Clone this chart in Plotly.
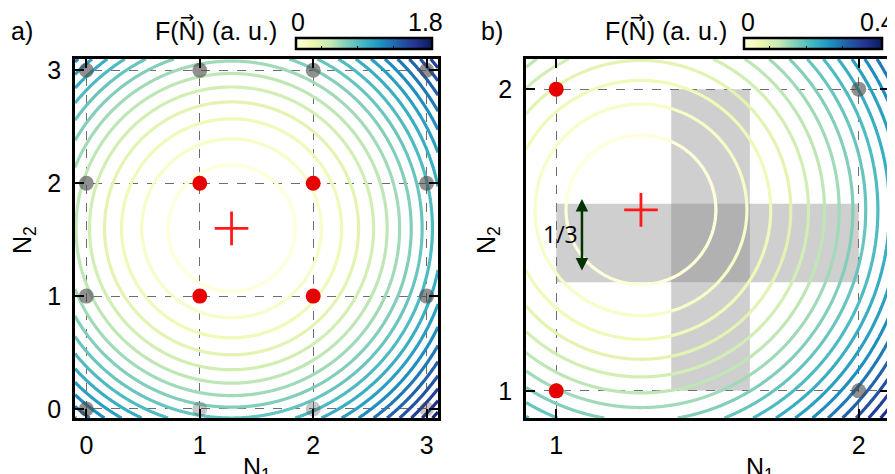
import numpy as np
import plotly.graph_objects as go
import plotly.colors as pc

# ---------------- data ----------------
minimum_n1 = 1.28
minimum_n2 = 1.60

a_ticks = [0, 1, 2, 3]
a_xrange = [-0.1, 3.1]
a_yrange = [-0.08, 3.1]
a_scale = 0.287
a_level_start, a_level_end, a_level_size = 0.09, 1.8, 0.09
a_cbar_range = [0, 1.8]
a_cbar_labels = ["0", "1.8"]
a_cbar_ticks = [0.335, 0.81, 1.285]

b_ticks = [1, 2]
b_xrange = [0.9, 2.1]
b_yrange = [0.91, 2.1]
b_scale = 0.326
b_level_start, b_level_end, b_level_size = 0.02, 0.4, 0.02
b_cbar_range = [0, 0.4]
b_cbar_labels = ["0", "0.4"]
b_cbar_ticks = [0.0745, 0.18, 0.2855]

a_red_n1 = [1, 2, 1, 2]
a_red_n2 = [1, 1, 2, 2]
a_gray_n1 = [0, 1, 2, 3, 0, 3, 0, 3, 0, 1, 2, 3]
a_gray_n2 = [0, 0, 0, 0, 1, 1, 2, 2, 3, 3, 3, 3]
a_gray_alpha = [0.6, 0.3, 0.3, 0.3, 0.6, 0.6, 0.6, 0.6, 0.6, 0.6, 0.6, 0.6]

b_red_n1 = [1, 1]
b_red_n2 = [1, 2]
b_gray_n1 = [2, 2]
b_gray_n2 = [1, 2]

b_vband_n1 = [1.38, 1.64]
b_vband_n2 = [1.0, 2.0]
b_hband_n1 = [1.0, 2.0]
b_hband_n2 = [1.36, 1.62]

arrow_n1 = 1.085
arrow_n2 = [1.394, 1.636]
arrow_label = "1/3"
arrow_label_pos = (1.013, 1.52)

cbar_title = "F(N) (a. u.)"
axis_x_title = "N<sub>1</sub>"
axis_y_title = "N<sub>2</sub>"

# ---------------- figure ----------------
OFF = 8                      # page body margin of the html document
W, H = 895 - OFF, 474 - OFF  # figure size so that the page fits the window
FONT = "Liberation Sans, Arial, sans-serif"
FS = 25
colorscale = pc.make_colorscale(pc.sequential.YlGnBu)

def px_x(p):
    return (p - OFF) / W

def px_y(p):
    return 1 - (p - OFF) / H

def field(xr, yr, scale):
    xs = np.linspace(xr[0], xr[1], 400)
    ys = np.linspace(yr[0], yr[1], 400)
    X, Y = np.meshgrid(xs, ys)
    Z = scale * ((X - minimum_n1) ** 2 + (Y - minimum_n2) ** 2)
    return xs, ys, Z

fig = go.Figure()

xs, ys, Z = field(a_xrange, a_yrange, a_scale)
fig.add_trace(go.Contour(
    x=xs, y=ys, z=Z, xaxis="x", yaxis="y",
    contours=dict(coloring="lines", start=a_level_start, end=a_level_end, size=a_level_size),
    line=dict(width=3.2), colorscale=colorscale, zmin=a_cbar_range[0], zmax=a_cbar_range[1],
    showscale=False, hoverinfo="skip"))

xs, ys, Z = field(b_xrange, b_yrange, b_scale)
fig.add_trace(go.Contour(
    x=xs, y=ys, z=Z, xaxis="x2", yaxis="y2",
    contours=dict(coloring="lines", start=b_level_start, end=b_level_end, size=b_level_size),
    line=dict(width=3.2), colorscale=colorscale, zmin=b_cbar_range[0], zmax=b_cbar_range[1],
    showscale=False, hoverinfo="skip"))

def cbar_trace(xaxis, yaxis, rng, ticks, x0px, x1px):
    return go.Scatter(
        x=[minimum_n1], y=[minimum_n2], xaxis=xaxis, yaxis=yaxis, mode="markers",
        marker=dict(color=[rng[0]], cmin=rng[0], cmax=rng[1], colorscale=colorscale,
                    opacity=0, showscale=True,
                    colorbar=dict(orientation="h", x=px_x(x0px), xanchor="left",
                                  y=px_y(38), yanchor="top", len=x1px - x0px, lenmode="pixels",
                                  thickness=11, thicknessmode="pixels", xpad=0, ypad=0,
                                  outlinewidth=2.5, outlinecolor="black",
                                  showticklabels=False, ticks="inside", tickvals=ticks,
                                  ticklen=4, tickwidth=1, tickcolor="black")),
        hoverinfo="skip", showlegend=False)

fig.add_trace(cbar_trace("x", "y", a_cbar_range, a_cbar_ticks, 296, 432))
fig.add_trace(cbar_trace("x2", "y2", b_cbar_range, b_cbar_ticks, 744, 882))

fig.add_trace(go.Scatter(
    x=a_gray_n1, y=a_gray_n2, xaxis="x", yaxis="y", mode="markers",
    marker=dict(size=15, color=[f"rgba(70,70,70,{a})" for a in a_gray_alpha], line=dict(width=0)),
    hoverinfo="skip", showlegend=False, cliponaxis=False))
fig.add_trace(go.Scatter(
    x=b_gray_n1, y=b_gray_n2, xaxis="x2", yaxis="y2", mode="markers",
    marker=dict(size=15, color="rgba(70,70,70,0.6)", line=dict(width=0)),
    hoverinfo="skip", showlegend=False, cliponaxis=False))

fig.add_trace(go.Scatter(
    x=a_red_n1, y=a_red_n2, xaxis="x", yaxis="y", mode="markers",
    marker=dict(size=15, color="#e60000", line=dict(width=0)),
    hoverinfo="skip", showlegend=False))
fig.add_trace(go.Scatter(
    x=b_red_n1, y=b_red_n2, xaxis="x2", yaxis="y2", mode="markers",
    marker=dict(size=15, color="#e60000", line=dict(width=0)),
    hoverinfo="skip", showlegend=False, cliponaxis=False))

for xa, ya in (("x", "y"), ("x2", "y2")):
    fig.add_trace(go.Scatter(
        x=[minimum_n1], y=[minimum_n2], xaxis=xa, yaxis=ya, mode="markers",
        marker=dict(symbol="cross-thin", size=24, line=dict(width=2.8, color="#ff1a1a")),
        hoverinfo="skip", showlegend=False))

band = "rgba(128,128,128,0.38)"
fig.add_shape(type="rect", xref="x2", yref="y2", x0=b_vband_n1[0], x1=b_vband_n1[1],
              y0=b_vband_n2[0], y1=b_vband_n2[1], fillcolor=band, line=dict(width=0), layer="between")
fig.add_shape(type="rect", xref="x2", yref="y2", x0=b_hband_n1[0], x1=b_hband_n1[1],
              y0=b_hband_n2[0], y1=b_hband_n2[1], fillcolor=band, line=dict(width=0), layer="between")

fig.add_annotation(x=arrow_n1, y=arrow_n2[1], ax=arrow_n1, ay=arrow_n2[0], xref="x2", yref="y2",
                   axref="x2", ayref="y2", text="", showarrow=True, arrowhead=2, arrowside="end+start",
                   arrowsize=1, arrowwidth=2.5, arrowcolor="#003300", standoff=0, startstandoff=0)
fig.add_annotation(x=arrow_label_pos[0], y=arrow_label_pos[1], xref="x2", yref="y2", text=arrow_label,
                   showarrow=False, font=dict(family="Open Sans, sans-serif", size=23, color="black"))

def ann(text, xp, yp, size=FS, xanchor="center", yanchor="middle", textangle=0, family=FONT):
    fig.add_annotation(x=px_x(xp), y=px_y(yp), xref="paper", yref="paper", text=text,
                       showarrow=False, xanchor=xanchor, yanchor=yanchor, textangle=textangle,
                       font=dict(family=family, size=size, color="black"))

ann("a)", 9, 31, xanchor="left")
ann("b)", 479, 31, xanchor="left")
for right in (279, 729):
    ann(cbar_title, right, 31, xanchor="right")
    ncen = right - 2 - FS * (3.223 + 0.361)
    ann("\u2192", ncen, 17, size=17, family="DejaVu Sans, sans-serif")
ann(a_cbar_labels[0], 298, 22)
ann(a_cbar_labels[1], 445, 22, xanchor="right")
ann(b_cbar_labels[0], 748, 22)
ann(b_cbar_labels[1], 897, 22, xanchor="right")
ann(axis_x_title, 257, 451, yanchor="top")
ann(axis_x_title, 760, 451, yanchor="top")
ann(axis_y_title, 24, 240, textangle=-90)
ann(axis_y_title, 488, 240, textangle=-90)

axis_common = dict(showline=True, linewidth=2.5, linecolor="black", mirror="ticks",
                   ticks="inside", ticklen=9, tickwidth=2, tickcolor="black",
                   showgrid=True, gridcolor="rgba(60,60,60,0.75)", gridwidth=1.3, griddash="dash",
                   zeroline=False, tickfont=dict(family=FONT, size=FS, color="black"),
                   fixedrange=True, automargin=False)

dom_y = [px_y(418), px_y(59)]
fig.update_layout(
    width=W, height=H, margin=dict(l=0, r=0, t=0, b=0, pad=0, autoexpand=False),
    paper_bgcolor="white", plot_bgcolor="white", showlegend=False,
    xaxis=dict(domain=[px_x(75), px_x(438)], range=a_xrange, tickvals=a_ticks, anchor="y",
               ticklabelstandoff=3, **axis_common),
    yaxis=dict(domain=dom_y, range=a_yrange, tickvals=a_ticks, anchor="x",
               ticklabelstandoff=6, **axis_common),
    xaxis2=dict(domain=[px_x(526), px_x(889)], range=b_xrange, tickvals=b_ticks, anchor="y2",
                ticklabelstandoff=3, **axis_common),
    yaxis2=dict(domain=dom_y, range=b_yrange, tickvals=b_ticks, anchor="x2",
                ticklabelstandoff=6, **axis_common),
)

fig.write_html("out.html")
